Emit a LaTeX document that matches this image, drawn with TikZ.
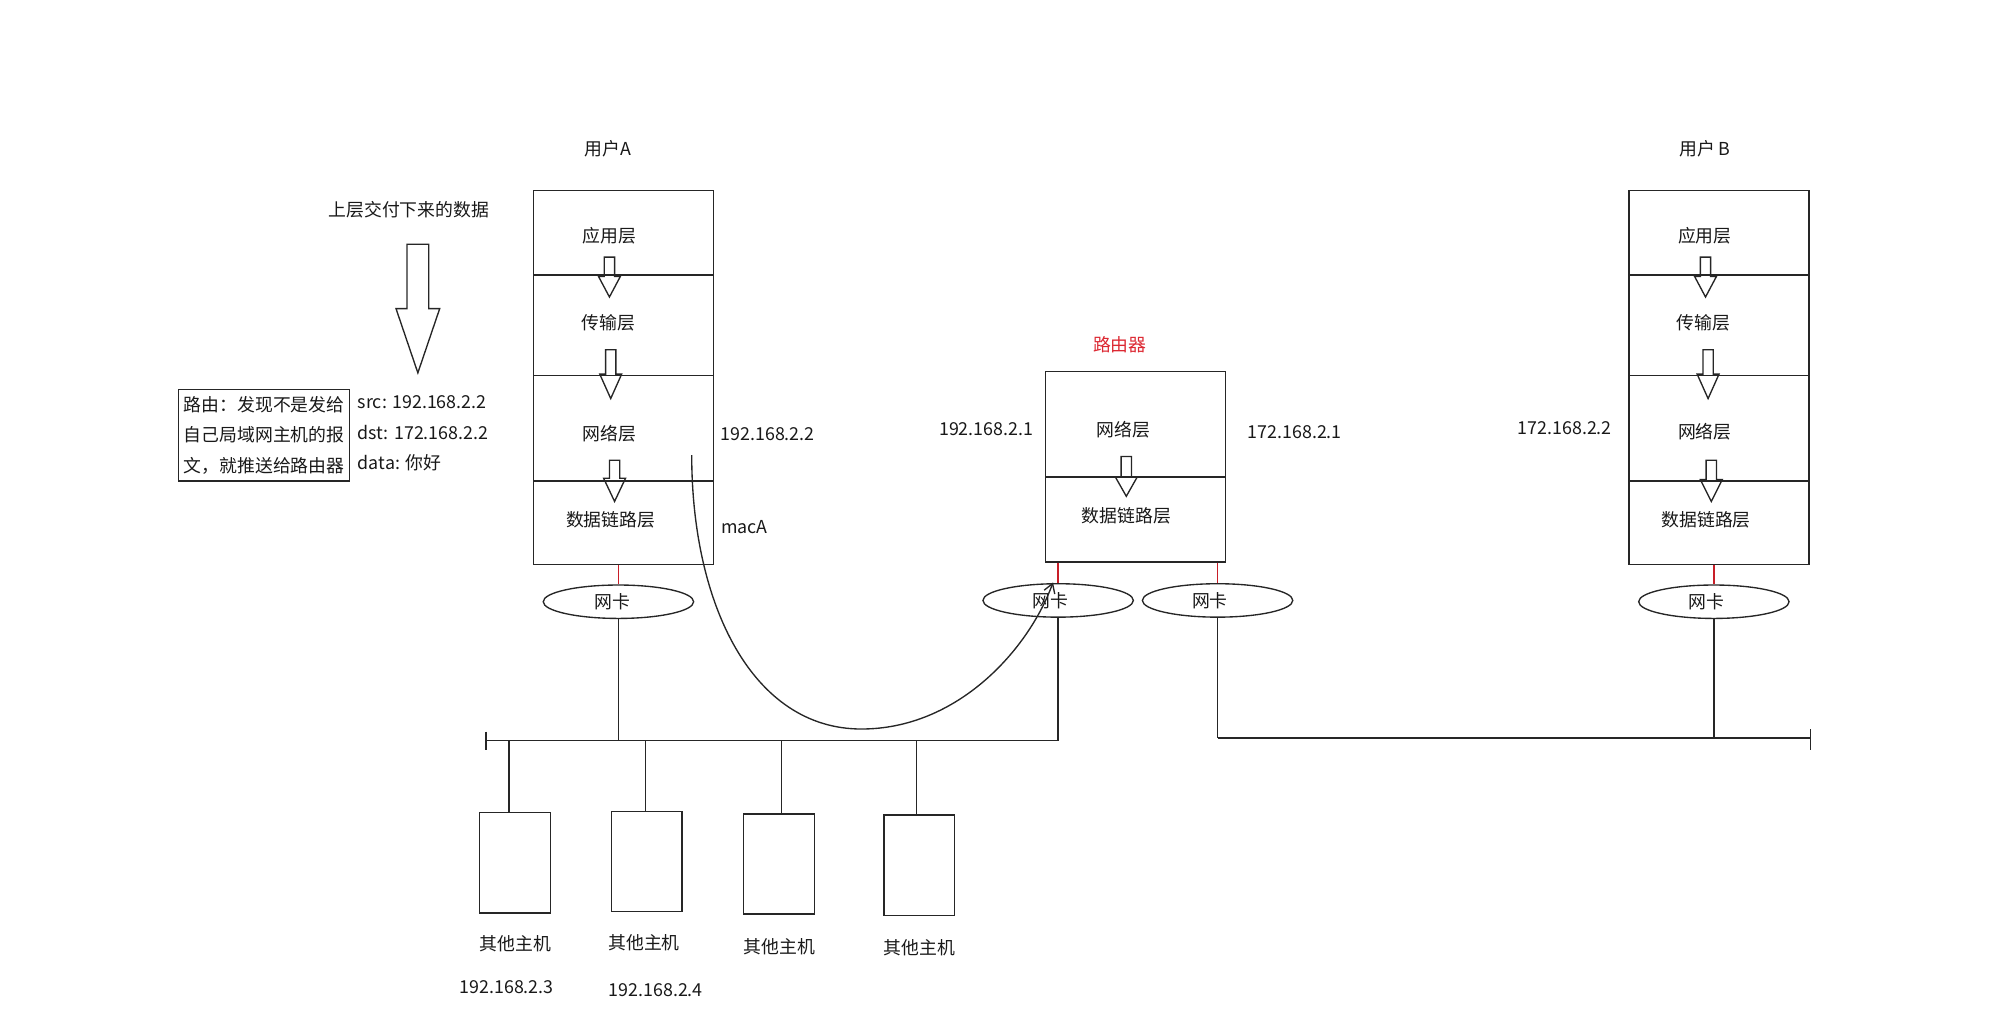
\documentclass[tikz,border=0pt]{standalone}
\usepackage{fontspec}
\setmainfont{Noto Sans CJK SC}
\usetikzlibrary{arrows.meta,shapes.geometric}
\definecolor{routerred}{RGB}{220,40,50}
\definecolor{linkred}{RGB}{200,30,40}
\newcommand{\myHollowArrow}[6]{% x, ytop, yhead, ytip, shaft half width, head half width
  \draw[wire] (#1-#5,#2) -- (#1+#5,#2) -- (#1+#5,#3) -- (#1+#6,#3) -- (#1,#4) -- (#1-#6,#3) -- (#1-#5,#3) -- cycle;}
\begin{document}
\begin{tikzpicture}[x=0.02cm,y=-0.02cm,
  every node/.style={font=\fontsize{7.9}{13.6}\selectfont, text=black!90},
  wire/.style={line width=0.6pt, draw=black!85},
  layer/.style={draw=black!85, line width=0.6pt, minimum width=2.8cm, inner sep=0},
  host/.style={draw=black!85, line width=0.6pt, minimum width=1.1cm, minimum height=1.56cm, inner sep=0},
  nic/.style={ellipse, draw=black!85, line width=0.6pt, minimum width=2.34cm, minimum height=0.52cm, inner sep=0},
  link/.style={line width=0.6pt, draw=linkred},
  txt/.style={inner sep=0}]
\useasboundingbox (0,0) rectangle (1568,792.6);

% ---------- titles ----------
\node[txt] (tA) at (473,116) {用户A};
\node[txt] (tB) at (1326,116) {用户 B};
\node[txt] (tUp) at (318,163) {上层交付下来的数据};
\node[txt, text=routerred] (tR) at (871,268) {路由器};

% ---------- user A stack ----------
\node[layer, minimum height=1.32cm] (Aapp) at (485,181) {};
\node[layer, minimum height=1.56cm] (Atr) at (485,253) {};
\node[layer, minimum height=1.64cm] (Anet) at (485,333) {};
\node[layer, minimum height=1.30cm] (Alink) at (485,406.5) {};
\node[txt] (lAapp) at (474,183) {应用层};
\node[txt] (lAtr) at (473,251) {传输层};
\node[txt] (lAnet) at (474,337) {网络层};
\node[txt] (lAlink) at (475,404) {数据链路层};
\myHollowArrow{474}{200}{215}{231}{4}{8.5}
\myHollowArrow{475}{272}{291}{310}{4}{8.5}
\myHollowArrow{478}{358}{372}{390}{4}{8.5}

% ---------- router ----------
\node[layer, minimum height=1.64cm] (Rnet) at (883,330) {};
\node[layer, minimum height=1.32cm] (Rlink) at (883,404) {};
\node[txt] (lRnet) at (874,334) {网络层};
\node[txt] (lRlink) at (876,401) {数据链路层};
\myHollowArrow{876}{355}{371}{386}{4}{8.5}

% ---------- user B stack ----------
\node[layer, minimum height=1.32cm] (Bapp) at (1337,181) {};
\node[layer, minimum height=1.56cm] (Btr) at (1337,253) {};
\node[layer, minimum height=1.64cm] (Bnet) at (1337,333) {};
\node[layer, minimum height=1.30cm] (Blink) at (1337,406.5) {};
\node[txt] (lBapp) at (1326,183) {应用层};
\node[txt] (lBtr) at (1325,251) {传输层};
\node[txt] (lBnet) at (1326,336) {网络层};
\node[txt] (lBlink) at (1327,404) {数据链路层};
\myHollowArrow{1326.5}{200}{215}{231}{4}{8.5}
\myHollowArrow{1328.5}{272}{291}{310}{4}{8.5}
\myHollowArrow{1331}{358}{373}{390}{4}{8.5}

% ---------- big arrow and packet ----------
\myHollowArrow{325}{190}{240}{290}{8.5}{17}
\node[draw=black!85, line width=0.6pt, minimum width=2.66cm, minimum height=1.42cm, inner sep=0, align=left] (route) at (205.5,338.5)
  {路由：发现不是发给\\自己局域网主机的报\\文，就推送给路由器};
\node[txt, anchor=west, align=left] (pkt) at (278,337) {src: 192.168.2.2\\dst: 172.168.2.2\\data: 你好};

% ---------- address labels ----------
\node[txt] (ipA) at (597,338) {192.168.2.2};
\node[txt] (macA) at (579,410) {macA};
\node[txt] (ipR1) at (767,334) {192.168.2.1};
\node[txt] (ipR2) at (1007,336) {172.168.2.1};
\node[txt] (ipB) at (1217,333) {172.168.2.2};

% ---------- NICs ----------
\node[nic] (nicA) at (481,468) {};
\node[nic] (nicR1) at (823,467) {};
\node[nic] (nicR2) at (947,467) {};
\node[nic] (nicB) at (1333,468) {};
\node[txt] (lnicA) at (476,468) {网卡};
\node[txt] (lnicR1) at (817,467) {网卡};
\node[txt] (lnicR2) at (941,467) {网卡};
\node[txt] (lnicB) at (1327,468) {网卡};
\draw[link] (nicA.north |- Alink.south) -- (nicA.north);
\draw[link] (nicR1.north |- Rlink.south) -- (nicR1.north);
\draw[link] (nicR2.north |- Rlink.south) -- (nicR2.north);
\draw[link] (nicB.north |- Blink.south) -- (nicB.north);

% ---------- buses ----------
\coordinate (busL) at (378,576);
\coordinate (busR) at (nicR1.south |- busL);
\draw[wire] (busL) -- (busR);
\draw[wire] (busL) ++(0,-7) -- ++(0,14);
\draw[wire] (nicA.south) -- (nicA.south |- busL);
\draw[wire] (nicR1.south) -- (busR);
\coordinate (bus2R) at (1408,574);
\coordinate (bus2L) at (nicR2.south |- bus2R);
\draw[wire] (bus2L) -- (bus2R);
\draw[wire] (bus2R) ++(0,-7) -- ++(0,16);
\draw[wire] (nicR2.south) -- (bus2L);
\draw[wire] (nicB.south) -- (nicB.south |- bus2R);

% ---------- other hosts ----------
\node[host] (H1) at (400.5,671) {};
\node[host] (H2) at (503,670) {};
\node[host] (H3) at (606,672) {};
\node[host] (H4) at (715,673) {};
\coordinate (b1) at (396,576);
\coordinate (b2) at (502,576);
\coordinate (b3) at (608,576);
\coordinate (b4) at (713,576);
\draw[wire] (b1) -- (b1 |- H1.north);
\draw[wire] (b2) -- (b2 |- H2.north);
\draw[wire] (b3) -- (b3 |- H3.north);
\draw[wire] (b4) -- (b4 |- H4.north);
\node[txt] (lH1) at (401,734) {其他主机};
\node[txt] (lH2) at (501,733) {其他主机};
\node[txt] (lH3) at (606,736) {其他主机};
\node[txt] (lH4) at (715,737) {其他主机};
\node[txt] (ipH1) at (394,768) {192.168.2.3};
\node[txt] (ipH2) at (510,770) {192.168.2.4};

% ---------- forwarding curve ----------
\coordinate (cs) at (538,354);
\coordinate (ce) at (819,453);
\draw[wire, -{Straight Barb[length=4pt,width=5pt]}] (cs) .. controls (538,470) and (585,567) .. (670,567)
  .. controls (745,567) and (800,505) .. (ce);
\end{tikzpicture}
\end{document}
